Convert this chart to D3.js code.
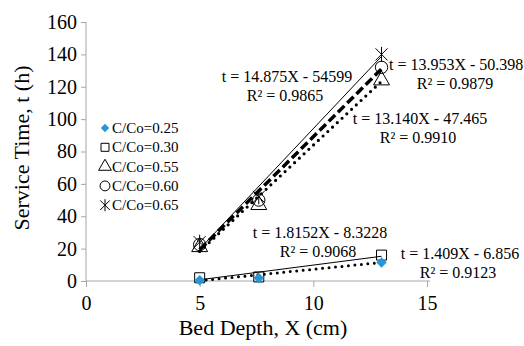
<!DOCTYPE html>
<html>
<head>
<meta charset="utf-8">
<script src="https://cdn.jsdelivr.net/npm/d3@7"></script>
<style>
  body { margin: 0; background: #fff; }
  text { font-family: "Liberation Serif", "Times New Roman", serif; fill: #000; }
</style>
</head>
<body>
<div id="chart"></div>
<script>
// bed depth values
var depths = [5, 7.6, 13];

// service time per series
var series = ["C/Co=0.25", "C/Co=0.30", "C/Co=0.55", "C/Co=0.60", "C/Co=0.65"];
var t025 = [0.5, 1.8, 11.5];
var t030 = [2, 2.5, 16];
var t055 = [21, 47, 124];
var t060 = [22.5, 50, 132];
var t065 = [24, 52, 140];

// trendlines  [slope, intercept]
var fit025 = [1.409, -6.856];
var fit030 = [1.8152, -8.3228];
var fit055 = [13.140, -47.465];
var fit060 = [13.953, -50.398];
var fit065 = [14.875, -54.599];

var eqLabels = [
  ["t = 14.875X - 54599", "R² = 0.9865"],
  ["t = 13.953X - 50.398", "R² = 0.9879"],
  ["t = 13.140X - 47.465", "R² = 0.9910"],
  ["t = 1.8152X - 8.3228", "R² = 0.9068"],
  ["t = 1.409X - 6.856", "R² = 0.9123"]
];

var xTicks = [0, 5, 10, 15];
var yTicks = [0, 20, 40, 60, 80, 100, 120, 140, 160];

var W = 524, H = 346;
var svg = d3.select("#chart").append("svg")
    .attr("width", W).attr("height", H);

var x = d3.scaleLinear().domain([0, 15]).range([86, 427]);
var y = d3.scaleLinear().domain([0, 160]).range([281, 22]);

// axes
var xAxis = svg.append("g")
    .attr("transform", "translate(0," + y(0) + ")")
    .call(d3.axisBottom(x).tickValues(xTicks).tickSize(6).tickPadding(9));
var yAxis = svg.append("g")
    .attr("transform", "translate(" + x(0) + ",0)")
    .call(d3.axisLeft(y).tickValues(yTicks).tickSize(5).tickPadding(4));

[xAxis, yAxis].forEach(function(a) {
  a.selectAll("path, line").attr("stroke", "#a6a6a6");
  a.select(".domain").attr("d", a === xAxis ? "M86,0H430" : "M0,22V281");
  a.selectAll("text").style("font-size", "20px")
    .style("font-family", "'Liberation Serif', serif").attr("fill", "#000");
});

svg.append("text")
    .attr("x", 263).attr("y", 335)
    .attr("text-anchor", "middle")
    .style("font-size", "22px")
    .text("Bed Depth, X (cm)");

svg.append("text")
    .attr("transform", "translate(29,148) rotate(-90)")
    .attr("text-anchor", "middle")
    .style("font-size", "22px")
    .text("Service Time, t (h)");

// trend lines
var fits = [fit025, fit030, fit055, fit060, fit065];
var lineStyles = [
  { w: 3, dash: "0,6.5", cap: "round" },
  { w: 1, dash: null, cap: "butt" },
  { w: 3.2, dash: "0,6.5", cap: "round" },
  { w: 3.5, dash: "9,4", cap: "butt" },
  { w: 1, dash: null, cap: "butt" }
];

var line = d3.line().x(function(d) { return x(d[0]); }).y(function(d) { return y(d[1]); });

fits.forEach(function(f, i) {
  var ends = [depths[0], depths[depths.length - 1]].map(function(d) { return [d, f[0] * d + f[1]]; });
  svg.append("path")
    .attr("d", line(ends))
    .attr("fill", "none")
    .attr("stroke", "#000")
    .attr("stroke-width", lineStyles[i].w)
    .attr("stroke-dasharray", lineStyles[i].dash)
    .attr("stroke-linecap", lineStyles[i].cap);
});

// markers
var sym = [
  d3.symbol().type(d3.symbolSquare).size(55),
  d3.symbol().type(d3.symbolSquare).size(100),
  d3.symbol().type(d3.symbolTriangle).size(110),
  d3.symbol().type(d3.symbolCircle).size(120),
  null
];

function drawMarker(g, i, cx, cy, scale) {
  scale = scale || 1;
  if (i === 4) {
    var r = 6 * scale;
    g.append("path")
      .attr("d", "M" + (cx - r) + "," + (cy - r) + "L" + (cx + r) + "," + (cy + r) +
                 "M" + (cx - r) + "," + (cy + r) + "L" + (cx + r) + "," + (cy - r) +
                 "M" + cx + "," + (cy - r * 1.25) + "V" + (cy + r * 1.25))
      .attr("stroke", "#000").attr("stroke-width", 1).attr("fill", "none");
    return;
  }
  var p = g.append("path")
    .attr("transform", "translate(" + cx + "," + cy + ") scale(" + scale + ")" + (i === 0 ? " rotate(45)" : ""))
    .attr("d", sym[i]());
  if (i === 0) p.attr("fill", "#2796d4").attr("stroke", "none");
  else p.attr("fill", "none").attr("stroke", "#000").attr("stroke-width", 1 / scale);
}

var allData = [t025, t030, t055, t060, t065];
var pts = svg.append("g");
[1, 0, 2, 3, 4].forEach(function(i) {
  allData[i].forEach(function(v, j) {
    drawMarker(pts, i, x(depths[j]), y(v));
  });
});

// legend
var legend = svg.append("g");
series.forEach(function(s, i) {
  var ly = 128 + i * 19.3;
  drawMarker(legend, i, 105, ly, 0.8);
  legend.append("text")
    .attr("x", 112).attr("y", ly + 5)
    .style("font-size", "15px")
    .text(s);
});

// equation labels
var eqPos = [[287, 76, "middle"], [389, 64, "start"], [420, 118, "middle"], [320, 232, "middle"], [460, 253, "middle"]];
eqLabels.forEach(function(lab, i) {
  lab.forEach(function(tx, k) {
    var lx = eqPos[i][0];
    if (eqPos[i][2] === "start" && k) lx += 66;
    svg.append("text")
      .attr("x", lx + (k && eqPos[i][2] === "middle" ? -2 : 0))
      .attr("y", eqPos[i][1] + 6 + k * 19)
      .attr("text-anchor", k && eqPos[i][2] === "start" ? "middle" : eqPos[i][2])
      .style("font-size", "16px")
      .text(tx);
  });
});
</script>
</body>
</html>
